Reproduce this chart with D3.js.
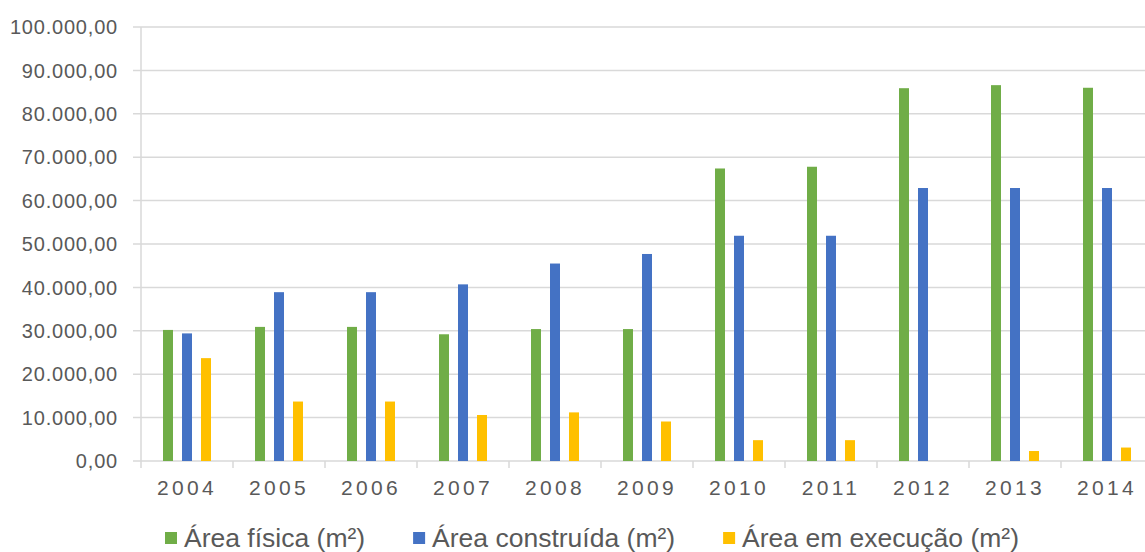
<!DOCTYPE html>
<html>
<head>
<meta charset="utf-8">
<script src="https://cdn.jsdelivr.net/npm/d3@7"></script>
<style>
  body { margin: 0; background: #fff; }
  svg { display: block; font-family: "Liberation Sans", Arial, sans-serif; }
</style>
</head>
<body>
<svg id="chart" width="1145" height="552"></svg>
<script>
const years = ["2004", "2005", "2006", "2007", "2008", "2009", "2010", "2011", "2012", "2013", "2014"];
const seriesNames = ["Área física (m²)", "Área construída (m²)", "Área em execução (m²)"];
const areaFisica = [30200, 30900, 30900, 29200, 30400, 30400, 67400, 67800, 85900, 86600, 86000];
const areaConstruida = [29400, 38900, 38900, 40700, 45500, 47700, 51900, 51900, 62900, 62900, 62900];
const areaExecucao = [23700, 13700, 13700, 10600, 11200, 9100, 4800, 4800, 0, 2300, 3100];
const yTicks = [0, 10000, 20000, 30000, 40000, 50000, 60000, 70000, 80000, 90000, 100000];
const colors = ["#70AD47", "#4472C4", "#FFC000"];

const svg = d3.select("#chart");
const plotLeft = 141, plotRight = 1153, plotTop = 27, plotBottom = 461;
const textColor = "#595959";
const gridColor = "#d9d9d9";

const x = d3.scaleBand().domain(years).range([plotLeft, plotRight]).padding(0);
const x1 = d3.scaleBand().domain(seriesNames).range([-24, 24]).paddingInner(9 / 19).paddingOuter(0);
const y = d3.scaleLinear().domain([0, 100000]).range([plotBottom, plotTop]);

const fmt = v => {
  const s = d3.format(",.2f")(v);
  return s.replace(/,/g, "#").replace(".", ",").replace(/#/g, ".");
};

// grid lines + y labels
const yAxis = svg.append("g");
yAxis.selectAll("line.grid")
  .data(yTicks)
  .enter()
  .append("line")
  .attr("class", "grid")
  .attr("x1", plotLeft - 8)
  .attr("x2", 1145)
  .attr("y1", d => y(d))
  .attr("y2", d => y(d))
  .attr("stroke", gridColor)
  .attr("stroke-width", 1.5);

yAxis.selectAll("text")
  .data(yTicks)
  .enter()
  .append("text")
  .attr("x", 118)
  .attr("y", d => y(d) + 7.2)
  .attr("text-anchor", "end")
  .style("font-size", "20px")
  .style("letter-spacing", "0.8px")
  .style("fill", textColor)
  .text(d => fmt(d));

// vertical axis line
svg.append("line")
  .attr("x1", plotLeft).attr("x2", plotLeft)
  .attr("y1", plotTop).attr("y2", plotBottom)
  .attr("stroke", gridColor)
  .attr("stroke-width", 1.5);

// category tick marks
const xTickPos = years.map(d => x(d)).concat([plotRight]);
svg.selectAll("line.xtick")
  .data(xTickPos)
  .enter()
  .append("line")
  .attr("class", "xtick")
  .attr("x1", d => d).attr("x2", d => d)
  .attr("y1", plotBottom).attr("y2", plotBottom + 7)
  .attr("stroke", gridColor)
  .attr("stroke-width", 1.5);

// bars
const rows = years.map((yr, i) => ({
  year: yr,
  values: [areaFisica[i], areaConstruida[i], areaExecucao[i]]
}));

const groups = svg.selectAll("g.year")
  .data(rows)
  .enter()
  .append("g")
  .attr("class", "year")
  .attr("transform", d => `translate(${x(d.year) + x.bandwidth() / 2},0)`);

groups.selectAll("rect")
  .data(d => d.values.map((v, k) => ({ key: seriesNames[k], value: v, k })))
  .enter()
  .append("rect")
  .attr("x", d => x1(d.key))
  .attr("width", x1.bandwidth())
  .attr("y", d => y(d.value))
  .attr("height", d => plotBottom - y(d.value))
  .attr("fill", d => colors[d.k]);

// x labels
svg.selectAll("text.xlabel")
  .data(years)
  .enter()
  .append("text")
  .attr("class", "xlabel")
  .attr("x", d => x(d) + x.bandwidth() / 2)
  .attr("y", 495)
  .attr("text-anchor", "middle")
  .style("font-size", "21px")
  .style("letter-spacing", "3.3px")
  .style("fill", textColor)
  .text(d => d);

// legend
const legend = svg.append("g");
let lx = 165;
seriesNames.forEach((name, k) => {
  legend.append("rect")
    .attr("x", lx)
    .attr("y", 532)
    .attr("width", 12)
    .attr("height", 12)
    .attr("fill", colors[k]);
  const t = legend.append("text")
    .attr("x", lx + 19)
    .attr("y", 547)
    .style("font-size", "26.5px")
    .style("fill", textColor)
    .text(name);
  lx += 19 + t.node().getComputedTextLength() + 48;
});
</script>
</body>
</html>
